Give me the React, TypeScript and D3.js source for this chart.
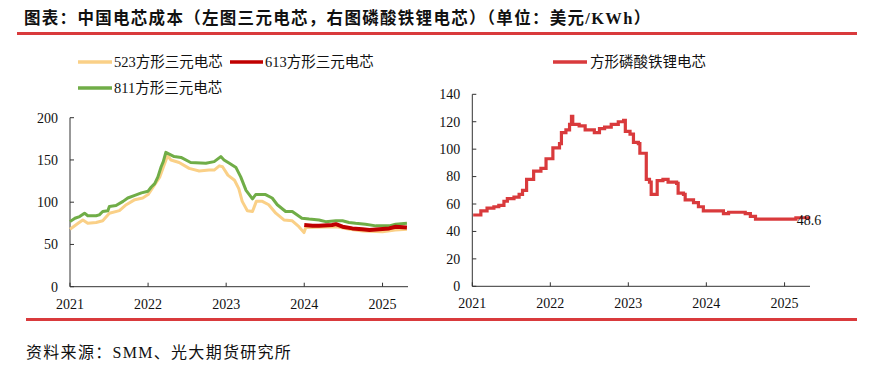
import * as d3 from 'd3';

// 三元电芯 (left), 磷酸铁锂 (right); values in USD/KWh
const ncm523: [string, number][] = [
  ['2021-01-01', 68], ['2021-02-08', 75], ['2021-03-02', 79], ['2021-03-25', 75],
  ['2021-05-03', 76], ['2021-06-03', 78], ['2021-07-04', 87], ['2021-08-20', 90],
  ['2021-09-21', 97], ['2021-10-31', 103], ['2021-12-07', 105], ['2022-01-01', 109],
  ['2022-01-25', 118], ['2022-02-25', 130], ['2022-03-17', 144], ['2022-04-02', 155],
  ['2022-04-18', 150], ['2022-05-26', 147], ['2022-07-12', 140], ['2022-08-28', 137],
  ['2022-10-13', 138], ['2022-11-06', 138], ['2022-11-30', 143], ['2022-12-15', 142],
  ['2023-01-09', 132], ['2023-02-09', 126], ['2023-03-01', 116], ['2023-03-17', 101],
  ['2023-04-10', 90], ['2023-05-04', 89], ['2023-05-22', 101], ['2023-06-19', 101],
  ['2023-07-19', 97], ['2023-08-21', 87], ['2023-09-28', 79], ['2023-11-06', 78],
  ['2023-12-07', 71], ['2023-12-31', 64], ['2024-01-08', 70], ['2024-06-01', 71],
  ['2024-08-01', 68], ['2024-10-01', 66], ['2025-01-01', 65], ['2025-03-01', 67],
  ['2025-04-25', 68],
];

const ncm613: [string, number][] = [
  ['2024-01-01', 73], ['2024-02-09', 72], ['2024-03-10', 72], ['2024-05-10', 73],
  ['2024-05-28', 74], ['2024-06-28', 71], ['2024-08-13', 69], ['2024-09-28', 68],
  ['2024-11-01', 67], ['2024-12-16', 68], ['2025-02-01', 69], ['2025-03-03', 71],
  ['2025-04-25', 70],
];

const ncm811: [string, number][] = [
  ['2021-01-01', 77], ['2021-01-24', 81], ['2021-02-15', 83], ['2021-03-10', 87],
  ['2021-03-25', 84], ['2021-05-03', 84], ['2021-05-18', 85], ['2021-06-03', 89],
  ['2021-06-27', 90], ['2021-07-04', 95], ['2021-08-04', 96], ['2021-09-06', 101],
  ['2021-09-28', 105], ['2021-10-31', 108], ['2021-12-01', 111], ['2022-01-01', 113],
  ['2022-01-16', 118], ['2022-02-01', 122], ['2022-02-16', 130], ['2022-03-03', 142],
  ['2022-03-13', 148], ['2022-03-25', 159], ['2022-04-10', 157], ['2022-05-03', 154],
  ['2022-06-04', 153], ['2022-07-19', 147], ['2022-09-28', 146], ['2022-11-06', 148],
  ['2022-12-07', 154], ['2022-12-22', 150], ['2023-01-16', 146], ['2023-02-16', 141],
  ['2023-03-10', 130], ['2023-04-04', 114], ['2023-05-04', 104], ['2023-05-19', 109],
  ['2023-07-04', 109], ['2023-08-04', 105], ['2023-08-28', 97], ['2023-10-06', 89],
  ['2023-11-06', 89], ['2023-12-21', 81], ['2024-01-24', 80], ['2024-03-10', 79],
  ['2024-04-10', 77], ['2024-05-28', 78], ['2024-06-28', 78], ['2024-07-28', 76],
  ['2024-08-28', 75], ['2024-10-13', 74], ['2024-12-01', 72], ['2025-02-01', 72],
  ['2025-03-03', 74], ['2025-04-25', 75],
];

// step changes: each value holds until the next date
const lfp: [string, number][] = [
  ['2021-01-05', 52], ['2021-02-10', 55], ['2021-03-11', 57], ['2021-04-12', 58],
  ['2021-05-05', 59], ['2021-05-29', 62], ['2021-06-14', 64], ['2021-07-15', 65],
  ['2021-08-08', 67], ['2021-08-24', 70], ['2021-09-12', 78], ['2021-10-15', 84],
  ['2021-11-18', 86], ['2021-12-12', 93], ['2022-01-13', 101], ['2022-02-13', 104],
  ['2022-02-22', 112], ['2022-03-15', 114], ['2022-04-01', 118], ['2022-04-10', 124],
  ['2022-04-16', 118], ['2022-05-16', 117], ['2022-06-13', 114], ['2022-07-26', 112],
  ['2022-08-19', 115], ['2022-09-12', 116], ['2022-10-13', 118], ['2022-11-15', 120],
  ['2022-12-10', 121], ['2022-12-18', 113], ['2023-01-09', 111], ['2023-01-25', 105],
  ['2023-02-17', 104], ['2023-02-24', 97], ['2023-03-26', 78], ['2023-04-10', 76],
  ['2023-04-18', 67], ['2023-05-16', 77], ['2023-06-12', 78], ['2023-07-06', 76],
  ['2023-08-15', 75], ['2023-08-22', 68], ['2023-09-16', 67], ['2023-09-24', 63],
  ['2023-11-02', 61], ['2023-11-25', 58], ['2023-12-18', 55], ['2024-03-21', 53],
  ['2024-04-14', 54], ['2024-07-01', 53], ['2024-07-25', 51], ['2024-08-18', 49],
  ['2025-02-23', 50], ['2025-04-24', 48.6],
];

const yearTicks = ['2021', '2022', '2023', '2024', '2025'];
const leftYTicks = [0, 50, 100, 150, 200];
const rightYTicks = [0, 20, 40, 60, 80, 100, 120, 140];
const lastLabel = '48.6';

const title = '图表：中国电芯成本（左图三元电芯，右图磷酸铁锂电芯）（单位：美元/KWh）';
const source = '资料来源：SMM、光大期货研究所';

const parse = d3.timeParse('%Y-%m-%d');
const serif = '"Liberation Serif", "Noto Sans CJK SC", serif';
const RED = '#D93A3C';

function Panel({ x0, x1, y0, y1, max, yTicks, children }) {
  const x = d3.scaleTime().domain([parse('2021-01-01'), parse('2025-04-30')]).range([x0, x1]);
  const y = d3.scaleLinear().domain([0, max]).range([y0, y1]);
  return (
    <g>
      <line x1={x0} x2={x0} y1={y(0)} y2={y(max)} stroke="#333" strokeWidth={1} />
      <line x1={x0} x2={x1} y1={y(0)} y2={y(0)} stroke="#333" strokeWidth={1} />
      {yTicks.map((t) => (
        <g key={t}>
          <line x1={x0} x2={x0 + 4} y1={y(t)} y2={y(t)} stroke="#333" />
          <text x={x0 - 12} y={y(t)} dy="0.35em" textAnchor="end" fontSize={14} fontFamily={serif} fill="#111">
            {t}
          </text>
        </g>
      ))}
      {yearTicks.map((t) => {
        const px = x(parse(t + '-01-01'));
        return (
          <g key={t}>
            <line x1={px} x2={px} y1={y(0)} y2={y(0) - 4} stroke="#333" />
            <text x={px} y={y(0) + 22} textAnchor="middle" fontSize={14} fontFamily={serif} fill="#111">
              {t}
            </text>
          </g>
        );
      })}
      {children(x, y)}
    </g>
  );
}

export default function App() {
  const lineOf = (x, y, curve = d3.curveLinear) =>
    d3
      .line<[string, number]>()
      .x((d) => x(parse(d[0])))
      .y((d) => y(d[1]))
      .curve(curve);

  return (
    <svg width={871} height={366} style={{ position: 'absolute', left: 0, top: 0, background: '#fff' }}>
      <text x={24} y={24} fontSize={16.5} fontWeight="bold" fontFamily={serif} fill="#111" letterSpacing={1.3}>
        {title}
      </text>
      <rect x={17} y={32} width={840} height={3} fill={RED} />
      <rect x={26} y={318} width={831} height={3} fill={RED} />
      <text x={26} y={358} fontSize={16} fontFamily={serif} fill="#111" letterSpacing={1.3}>
        {source}
      </text>

      {/* left legend */}
      <g fontFamily={serif} fontSize={14.5} fill="#111">
        <line x1={78} x2={112} y1={62} y2={62} stroke="#FAD087" strokeWidth={3.5} />
        <text x={114} y={62} dy="0.35em">523方形三元电芯</text>
        <line x1={230} x2={263} y1={62} y2={62} stroke="#C00000" strokeWidth={3.5} />
        <text x={265} y={62} dy="0.35em">613方形三元电芯</text>
        <line x1={78} x2={112} y1={88} y2={88} stroke="#70AD47" strokeWidth={3.5} />
        <text x={114} y={88} dy="0.35em">811方形三元电芯</text>
        <line x1={553} x2={587} y1={62} y2={62} stroke={RED} strokeWidth={3.5} />
        <text x={590} y={62} dy="0.35em">方形磷酸铁锂电芯</text>
      </g>

      <Panel x0={70} x1={408} y0={286.7} y1={117.7} max={200} yTicks={leftYTicks}>
        {(x, y) => (
          <g fill="none" strokeLinejoin="round">
            <path d={lineOf(x, y)(ncm523)} stroke="#FAD087" strokeWidth={3} />
            <path d={lineOf(x, y)(ncm811)} stroke="#70AD47" strokeWidth={3} />
            <path d={lineOf(x, y)(ncm613)} stroke="#C00000" strokeWidth={4} />
          </g>
        )}
      </Panel>

      <Panel x0={472.3} x1={810} y0={286.3} y1={94.3} max={140} yTicks={rightYTicks}>
        {(x, y) => {
          const last = lfp[lfp.length - 1];
          return (
            <g>
              <path d={lineOf(x, y, d3.curveStepAfter)(lfp)} fill="none" stroke={RED} strokeWidth={3.2} />
              <text x={x(parse(last[0])) - 12} y={y(last[1])} dy="0.35em" fontSize={14} fontFamily={serif} fill="#111">
                {lastLabel}
              </text>
            </g>
          );
        }}
      </Panel>
    </svg>
  );
}
